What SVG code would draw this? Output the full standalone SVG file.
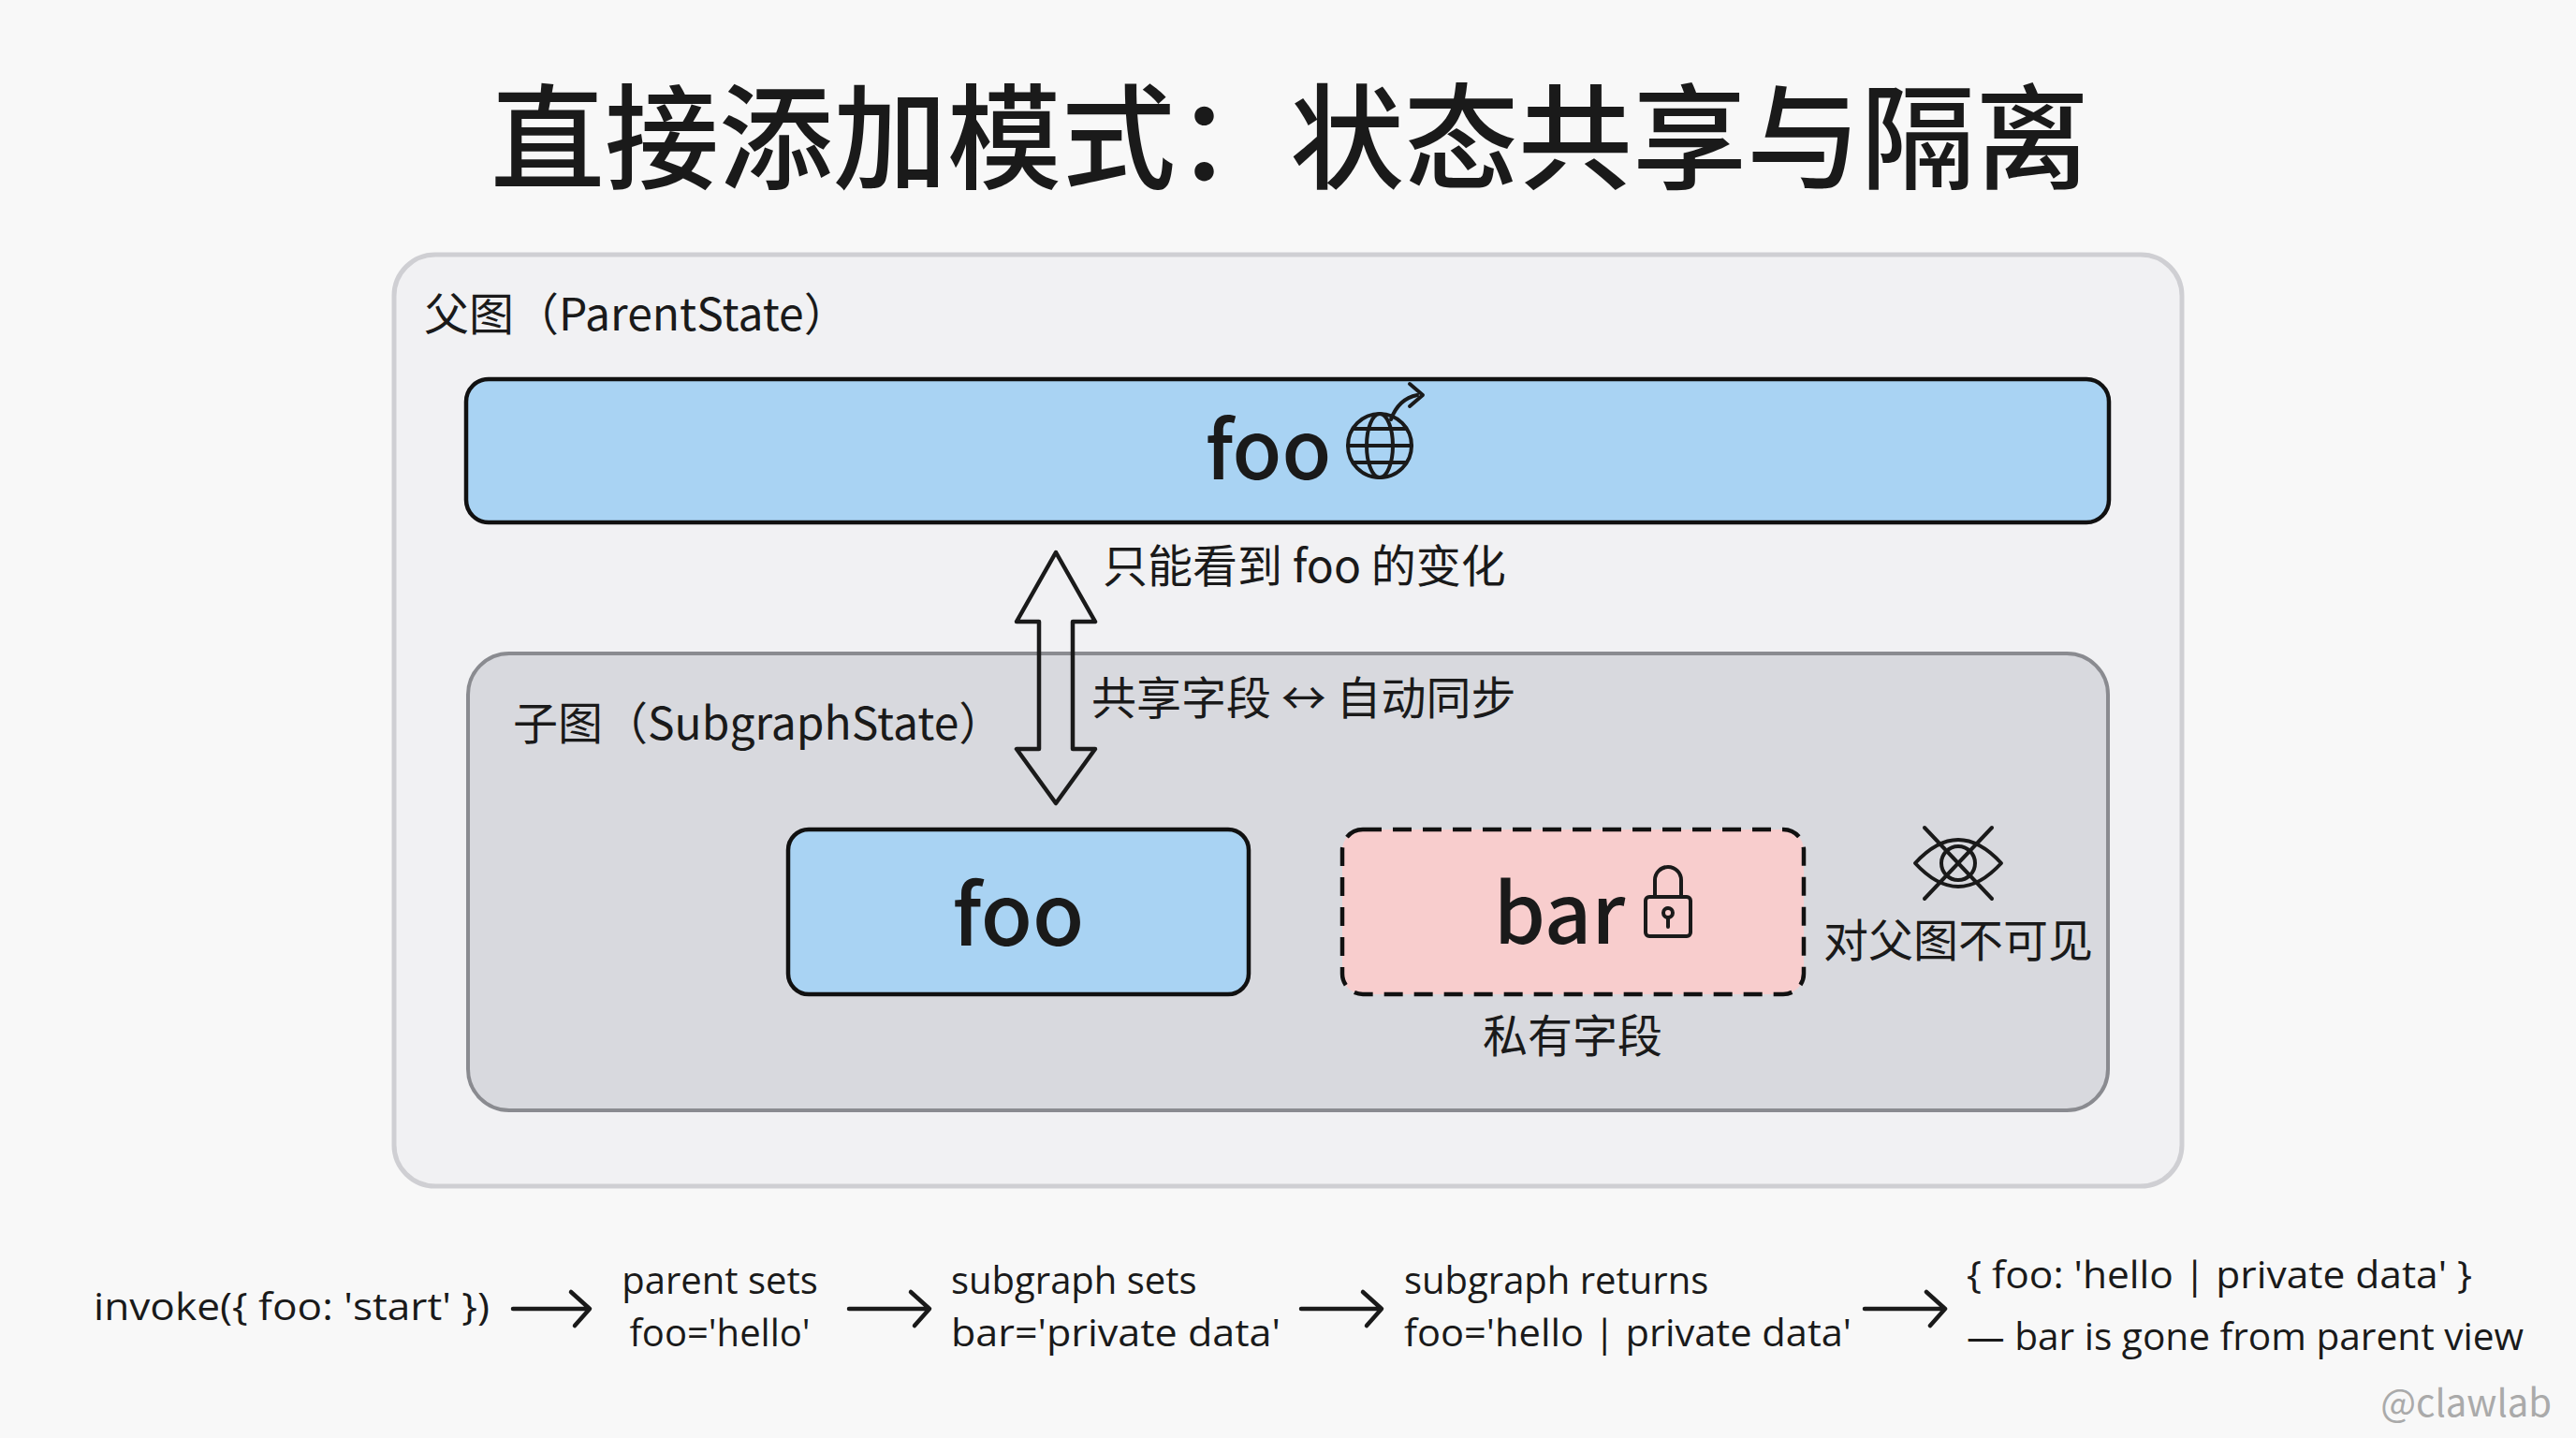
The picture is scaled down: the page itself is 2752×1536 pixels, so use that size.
<svg xmlns="http://www.w3.org/2000/svg" width="2752" height="1536" viewBox="0 0 2752 1536">
<defs>
<style>
text{font-family:"Noto Sans CJK SC","Noto Sans",sans-serif;fill:#1a1a1a}
.lab{font-size:48px}
.flow{font-size:40px;font-family:"Open Sans","Noto Sans CJK SC",sans-serif}
.ic{fill:none;stroke:#1a1a1a;stroke-width:4;stroke-linecap:round;stroke-linejoin:round}
.fa{fill:none;stroke:#1a1a1a;stroke-width:4.5;stroke-linecap:round;stroke-linejoin:round}
</style>
</defs>
<rect width="2752" height="1536" fill="#f8f8f8"/>
<text x="1378" y="192" text-anchor="middle" font-size="122" font-weight="500">直接添加模式：状态共享与隔离</text>
<g id="parent">
<rect x="421" y="272" width="1910" height="995" rx="44" fill="#f1f1f3" stroke="#cfcfd3" stroke-width="5"/>
<text class="lab" x="453" y="353">父图（ParentState）</text>
</g>
<g id="parent-foo">
<rect x="498" y="405" width="1755" height="153" rx="24" fill="#a9d3f3" stroke="#111" stroke-width="4.5"/>
<text x="1355" y="512" text-anchor="middle" font-size="86" font-weight="500">foo</text>
<g class="ic">
<circle cx="1474" cy="476" r="34"/>
<ellipse cx="1474" cy="476" rx="14" ry="34"/>
<line x1="1440" y1="476" x2="1508" y2="476"/>
<path d="M1446 458 H1502 M1446 494 H1502"/>
<path d="M1486 448 Q1494 426 1514 422 M1506 410 L1520 422 L1506 434"/>
</g>
</g>
<g id="subgraph">
<rect x="500" y="698" width="1752" height="488" rx="44" fill="#d8d9de" stroke="#8a8b90" stroke-width="4"/>
<text class="lab" x="548" y="790">子图（SubgraphState）</text>
</g>
<g id="sub-foo">
<rect x="842" y="886" width="492" height="176" rx="22" fill="#a9d3f3" stroke="#111" stroke-width="4.5"/>
<text x="1088" y="1010" text-anchor="middle" font-size="90" font-weight="500">foo</text>
</g>
<g id="sub-bar">
<rect x="1434" y="886" width="493" height="176" rx="22" fill="#f8cdcd" stroke="#111" stroke-width="4.5" stroke-dasharray="20 12"/>
<text x="1666" y="1008" text-anchor="middle" font-size="88" font-weight="500">bar</text>
<g class="ic">
<path d="M1768 958 V940 a14 14 0 0 1 28 0 V958"/>
<rect x="1758" y="958" width="48" height="42" rx="4"/>
<circle cx="1782" cy="975" r="5"/>
<line x1="1782" y1="980" x2="1782" y2="990"/>
</g>
<text class="lab" x="1680" y="1124" text-anchor="middle" font-size="42">私有字段</text>
</g>
<g id="invisible">
<g class="ic">
<path d="M2046 922 Q2092 872 2138 922 Q2092 972 2046 922 Z"/>
<circle cx="2092" cy="922" r="18"/>
<line x1="2056" y1="884" x2="2128" y2="960"/>
<line x1="2128" y1="884" x2="2056" y2="960"/>
</g>
<text class="lab" x="2092" y="1022" text-anchor="middle" font-size="42">对父图不可见</text>
</g>
<g id="connectors">
<path class="fa" d="M1128 590 L1170 664 L1146 664 L1146 800 L1170 800 L1128 858 L1086 800 L1110 800 L1110 664 L1086 664 Z" fill="#fff"/>
<text class="lab" x="1178" y="622" font-size="42">只能看到 foo 的变化</text>
<text class="lab" x="1166" y="763" font-size="42">共享字段 ↔ 自动同步</text>
<g class="fa">
<path d="M548 1398 H628 M610 1380 L630 1398 L614 1416"/>
<path d="M907 1398 H991 M973 1380 L993 1398 L977 1416"/>
<path d="M1390 1398 H1474 M1456 1380 L1476 1398 L1460 1416"/>
<path d="M1992 1398 H2076 M2058 1380 L2078 1398 L2062 1416"/>
</g>
</g>
<g id="flow">
<text class="flow" x="100" y="1410" textLength="423" lengthAdjust="spacingAndGlyphs">invoke({ foo: 'start' })</text>
<text class="flow" x="769" y="1382" text-anchor="middle">parent sets</text>
<text class="flow" x="769" y="1438" text-anchor="middle">foo='hello'</text>
<text class="flow" x="1016" y="1382">subgraph sets</text>
<text class="flow" x="1016" y="1438" textLength="352" lengthAdjust="spacingAndGlyphs">bar='private data'</text>
<text class="flow" x="1500" y="1382">subgraph returns</text>
<text class="flow" x="1500" y="1438" textLength="478" lengthAdjust="spacingAndGlyphs">foo='hello | private data'</text>
<text class="flow" x="2101" y="1376" textLength="540" lengthAdjust="spacingAndGlyphs">{ foo: 'hello | private data' }</text>
<text class="flow" x="2101" y="1442" textLength="595" lengthAdjust="spacingAndGlyphs">— bar is gone from parent view</text>
<text x="2726" y="1513" text-anchor="end" font-size="40" style="fill:#aaa">@clawlab</text>
</g>
</svg>
